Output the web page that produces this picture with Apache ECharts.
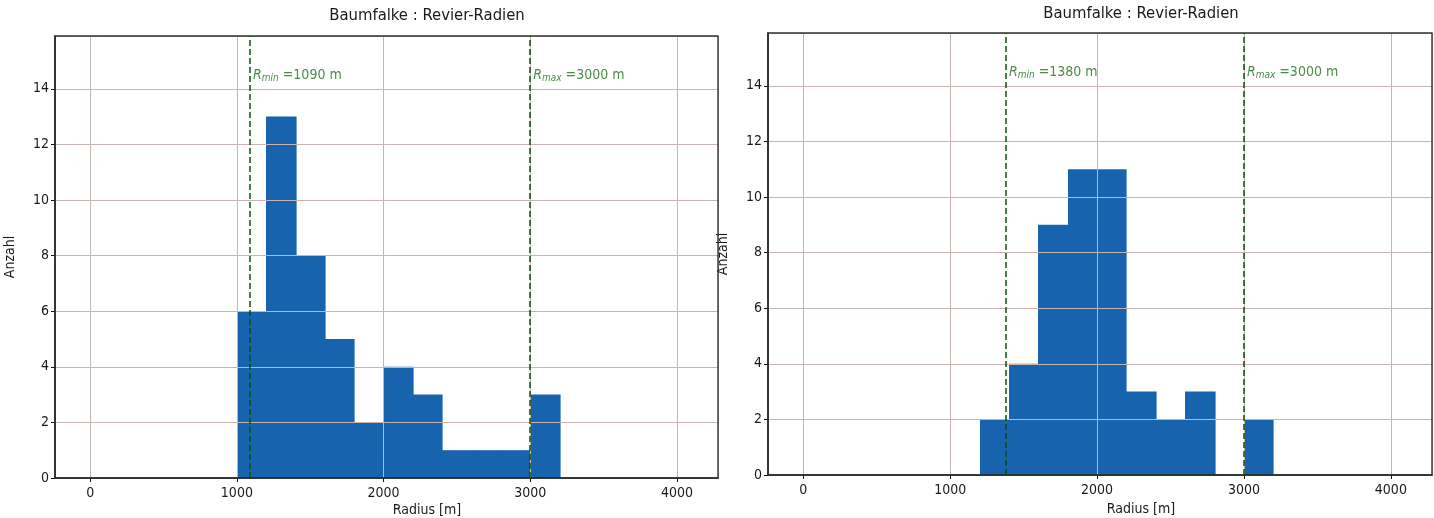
<!DOCTYPE html>
<html>
<head>
<meta charset="utf-8">
<script src="https://cdn.jsdelivr.net/npm/echarts@6/dist/echarts.min.js"></script>
<style>
  html, body { margin: 0; padding: 0; background: #fff; }
  #chart { width: 1434px; height: 518px; }
</style>
</head>
<body>
<div id="chart"></div>
<script>
// Histogramm der Revier-Radien, Klassenbreite 200 m
var binWidth = 200;
var leftBinStarts = [1000, 1200, 1400, 1600, 1800, 2000, 2200, 2400, 2600, 2800, 3000];
var leftCounts = [6, 13, 8, 5, 2, 4, 3, 1, 1, 1, 3];
var rightBinStarts = [1200, 1400, 1600, 1800, 2000, 2200, 2400, 2600, 2800, 3000];
var rightCounts = [2, 4, 9, 11, 11, 3, 2, 3, 0, 2];
var rMinValues = [1090, 1380];
var rMaxValues = [3000, 3000];
var labelLevel = 14.5;

var titleText = 'Baumfalke : Revier-Radien';
var xName = 'Radius [m]';
var yName = 'Anzahl';

var barColor = '#1763ad';
var gridColor = '#c4b5b2';
var green = '#1c6f1c';
var font = "'DejaVu Sans Condensed', 'DejaVu Sans', sans-serif";

var chart = echarts.init(document.getElementById('chart'));

function renderBar(params, api) {
    var x0 = api.value(0);
    var h = api.value(1);
    var p0 = api.coord([x0, 0]);
    var p1 = api.coord([x0 + binWidth, h]);
    var left = Math.round(p0[0]);
    var right = Math.round(p1[0]);
    return {
        type: 'rect',
        shape: { x: left, y: p1[1], width: right - left + 0.6, height: p0[1] - p1[1] },
        style: { fill: barColor }
    };
}

function makeX(idx) {
    return {
        type: 'value', gridIndex: idx, min: -240, max: 4280, splitNumber: 5, z: 3,
        axisLine: { show: true, onZero: false, lineStyle: { color: '#111', width: 1.6 } },
        axisTick: { show: true, length: 4, lineStyle: { color: '#111' } },
        axisLabel: {
            color: '#1a1a1a', fontSize: 14, fontFamily: font, margin: 8,
            showMinLabel: false, showMaxLabel: false,
            formatter: function (v) { return String(v); }
        },
        splitLine: { show: true, lineStyle: { color: gridColor, width: 1 } }
    };
}

function makeY(idx) {
    return {
        type: 'value', gridIndex: idx, min: 0, max: 15.9, interval: 2, z: 3,
        name: yName, nameLocation: 'middle', nameGap: 38,
        nameTextStyle: { color: '#1a1a1a', fontSize: 14, fontFamily: font },
        axisLine: { show: true, onZero: false, lineStyle: { color: '#111', width: 1.6 } },
        axisTick: { show: true, length: 4, lineStyle: { color: '#111' } },
        axisLabel: {
            color: '#1a1a1a', fontSize: 14, fontFamily: font, margin: 6,
            showMaxLabel: false
        },
        splitLine: { show: true, lineStyle: { color: gridColor, width: 1 } }
    };
}

function histSeries(idx, starts, counts) {
    return {
        type: 'custom', xAxisIndex: idx, yAxisIndex: idx, z: 2,
        renderItem: renderBar,
        encode: { x: 0, y: 1 },
        data: starts.map(function (s, i) { return [s, counts[i]]; })
    };
}

function limitSeries(idx) {
    var rich = {
        r: { fontStyle: 'italic', fontSize: 14, color: green, fontFamily: font },
        s: { fontStyle: 'italic', fontSize: 10, color: green, fontFamily: font, padding: [6, 0, 0, 0] },
        t: { fontSize: 14, color: green, fontFamily: font }
    };
    return {
        type: 'scatter', xAxisIndex: idx, yAxisIndex: idx, z: 5,
        symbolSize: 0, silent: true,
        data: [
            { value: [rMinValues[idx], labelLevel], name: 'min' },
            { value: [rMaxValues[idx], labelLevel], name: 'max' }
        ],
        label: {
            show: true, position: 'right', distance: 3, rich: rich,
            formatter: function (p) {
                return '{r|R}{s|' + p.name + '}{t| =' + p.value[0] + ' m}';
            }
        },
        markLine: {
            silent: true, symbol: 'none',
            label: { show: false },
            lineStyle: { color: '#0d4f0d', type: [6, 3], width: 1.5 },
            data: [{ xAxis: rMinValues[idx] }, { xAxis: rMaxValues[idx] }]
        }
    };
}

function textEl(text, x, y, size) {
    return {
        type: 'text', x: x, y: y,
        style: { text: text, fill: '#1a1a1a', font: size + 'px ' + font, align: 'center', verticalAlign: 'middle' }
    };
}

var option = {
    backgroundColor: '#fff',
    animation: false,
    grid: [
        { left: 55, top: 36, width: 663, height: 442, show: true, z: 4, borderColor: '#333', borderWidth: 1.4, backgroundColor: 'transparent' },
        { left: 768, top: 33, width: 664, height: 442, show: true, z: 4, borderColor: '#333', borderWidth: 1.4, backgroundColor: 'transparent' }
    ],
    xAxis: [makeX(0), makeX(1)],
    yAxis: [makeY(0), makeY(1)],
    series: [
        histSeries(0, leftBinStarts, leftCounts),
        histSeries(1, rightBinStarts, rightCounts),
        limitSeries(0),
        limitSeries(1)
    ],
    graphic: [
        textEl(titleText, 427, 16, 16.5),
        textEl(titleText, 1141, 14, 16.5),
        textEl(xName, 427, 510, 14),
        textEl(xName, 1141, 509, 14)
    ]
};

chart.setOption(option);
</script>
</body>
</html>
